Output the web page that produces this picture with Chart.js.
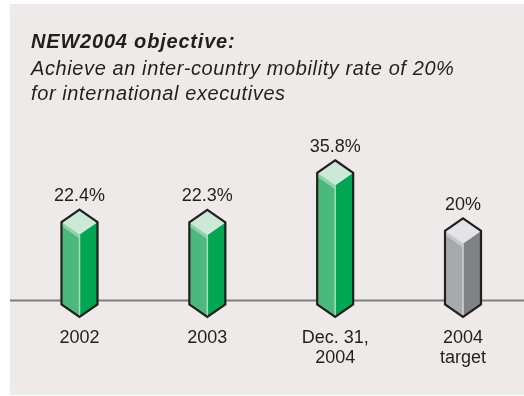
<!DOCTYPE html>
<html>
<head>
<meta charset="utf-8">
<script src="https://cdn.jsdelivr.net/npm/chart.js@4/dist/chart.umd.min.js"></script>
<style>
  html, body { margin: 0; padding: 0; background: #ffffff; }
  canvas { display: block; }
</style>
</head>
<body>
<canvas id="chart" width="524" height="396"></canvas>
<script>
// Inter-country mobility rate of international executives (%)
const categories = ['2002', '2003', ['Dec. 31,', '2004'], ['2004', 'target']];
const mobilityRate = [22.4, 22.3, 35.8, 20];
const isTarget = [false, false, false, true];

const titleText = 'NEW2004 objective:';
const subtitleLines = [
  'Achieve an inter-country mobility rate of 20%',
  'for international executives'
];

const FONT = "'Liberation Sans', Arial, Helvetica, sans-serif";
const INK = '#231f20';

// Face colours of the prisms: actual results in green, the target in grey
const palette = {
  actual: { left: '#4bb97b', right: '#00a651', top: '#cce9d7', band: '#8dd3a9', edge: '#a6dcbb' },
  target: { left: '#a7a9ac', right: '#808285', top: '#e3e4e6', band: '#c4c6c8', edge: '#d2d3d5' }
};

// Panel background and heading
const panelPlugin = {
  id: 'panel',
  beforeDraw(chart) {
    const ctx = chart.ctx;
    ctx.save();
    ctx.fillStyle = '#ffffff';
    ctx.fillRect(0, 0, chart.width, chart.height);
    ctx.fillStyle = '#eeeae9';
    ctx.fillRect(10, 4, chart.width - 10, chart.height - 5);

    ctx.fillStyle = INK;
    ctx.textAlign = 'left';
    ctx.textBaseline = 'alphabetic';
    ctx.letterSpacing = '0.8px';
    ctx.font = 'italic bold 20px ' + FONT;
    ctx.fillText(titleText, 31, 47.5);
    ctx.letterSpacing = '0.6px';
    ctx.font = 'italic 20px ' + FONT;
    subtitleLines.forEach((line, i) => ctx.fillText(line, 31, 75 + i * 24.8));
    ctx.restore();
  }
};

// Floor line behind the prisms
const floorPlugin = {
  id: 'floor',
  beforeDatasetsDraw(chart) {
    const ctx = chart.ctx;
    const y0 = chart.scales.y.getPixelForValue(0) - 4;
    ctx.save();
    ctx.strokeStyle = '#7f7f7f';
    ctx.lineWidth = 2;
    ctx.beginPath();
    ctx.moveTo(10, y0);
    ctx.lineTo(chart.width, y0);
    ctx.stroke();
    ctx.restore();
  }
};

// Each bar drawn as a hexagonal prism seen from slightly above
const prismPlugin = {
  id: 'prism',
  afterDatasetsDraw(chart) {
    const ctx = chart.ctx;
    const meta = chart.getDatasetMeta(0);
    const d = 12.5;
    meta.data.forEach((bar, i) => {
      const c = isTarget[i] ? palette.target : palette.actual;
      const x = bar.x, top = bar.y, base = bar.base, hw = bar.width / 2;
      ctx.save();
      // left face
      ctx.fillStyle = c.left;
      ctx.beginPath();
      ctx.moveTo(x - hw, top); ctx.lineTo(x, top + d); ctx.lineTo(x, base + d); ctx.lineTo(x - hw, base);
      ctx.closePath(); ctx.fill();
      // right face
      ctx.fillStyle = c.right;
      ctx.beginPath();
      ctx.moveTo(x, top + d); ctx.lineTo(x + hw, top); ctx.lineTo(x + hw, base); ctx.lineTo(x, base + d);
      ctx.closePath(); ctx.fill();
      // bevel band under the top
      ctx.fillStyle = c.band;
      ctx.beginPath();
      ctx.moveTo(x - hw, top); ctx.lineTo(x, top + d); ctx.lineTo(x, top + d + 4); ctx.lineTo(x - hw, top + 4);
      ctx.closePath(); ctx.fill();
      // top face
      ctx.fillStyle = c.top;
      ctx.beginPath();
      ctx.moveTo(x, top - d); ctx.lineTo(x + hw, top); ctx.lineTo(x, top + d); ctx.lineTo(x - hw, top);
      ctx.closePath(); ctx.fill();
      // front edge highlight
      ctx.strokeStyle = c.edge;
      ctx.lineWidth = 1.5;
      ctx.beginPath();
      ctx.moveTo(x, top + d); ctx.lineTo(x, base + d);
      ctx.stroke();
      // outline
      ctx.strokeStyle = INK;
      ctx.lineWidth = 2.2;
      ctx.lineJoin = 'miter';
      ctx.beginPath();
      ctx.moveTo(x, top - d); ctx.lineTo(x + hw, top); ctx.lineTo(x + hw, base);
      ctx.lineTo(x, base + d); ctx.lineTo(x - hw, base); ctx.lineTo(x - hw, top);
      ctx.closePath(); ctx.stroke();
      // value label
      ctx.fillStyle = INK;
      ctx.font = '18px ' + FONT;
      ctx.textAlign = 'center';
      ctx.textBaseline = 'alphabetic';
      ctx.fillText(mobilityRate[i] + '%', x, top - 21);
      ctx.restore();
    });
  }
};

new Chart(document.getElementById('chart'), {
  type: 'bar',
  data: {
    labels: categories,
    datasets: [{
      data: mobilityRate,
      backgroundColor: 'rgba(0,0,0,0)',
      borderWidth: 0,
      barThickness: 36
    }]
  },
  options: {
    responsive: false,
    devicePixelRatio: 1,
    animation: false,
    layout: { padding: { top: 157.3, bottom: 5.2, left: 79.5, right: 61 } },
    plugins: { legend: { display: false }, tooltip: { enabled: false } },
    scales: {
      x: {
        offset: false,
        grid: { display: false, drawTicks: false },
        border: { display: false },
        ticks: {
          autoSkip: false,
          maxRotation: 0,
          padding: 23,
          color: INK,
          font: { family: FONT, size: 18, lineHeight: 1.12 }
        }
      },
      y: {
        display: false,
        min: 0,
        max: 40
      }
    }
  },
  plugins: [panelPlugin, floorPlugin, prismPlugin]
});
</script>
</body>
</html>
